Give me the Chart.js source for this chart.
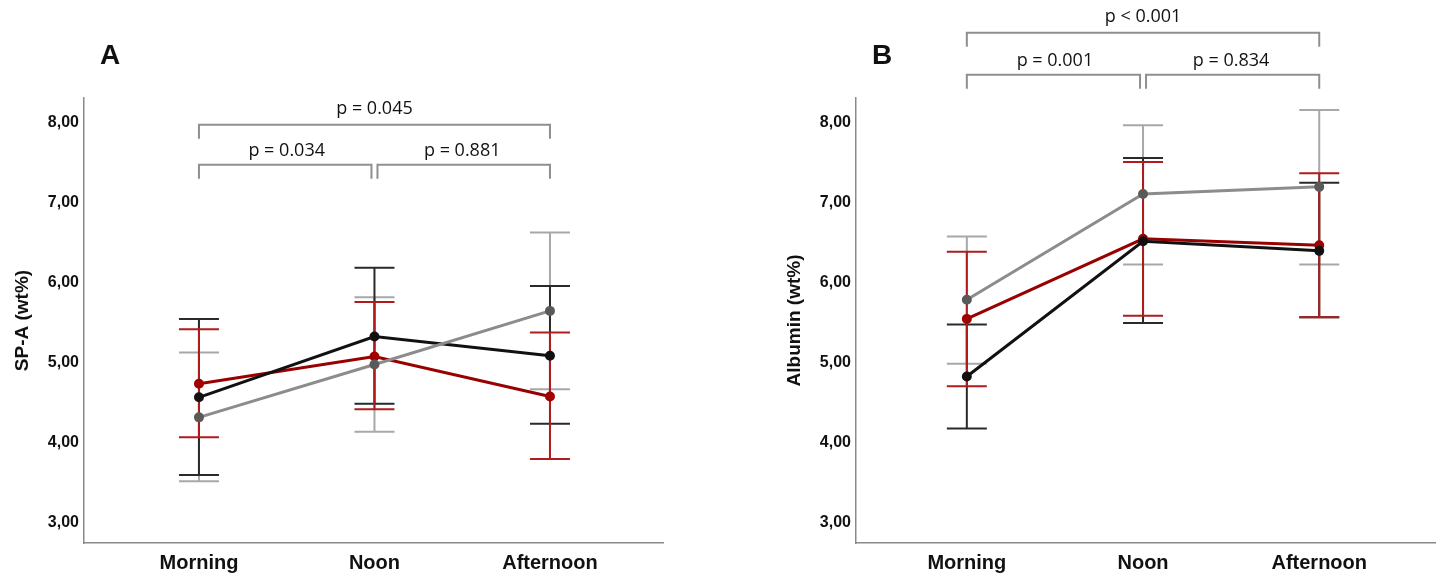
<!DOCTYPE html>
<html lang="en">
<head>
<meta charset="UTF-8">
<title>SP-A and Albumin by time of day</title>
<script src="https://cdn.jsdelivr.net/npm/chart.js"></script>
<style>
  body { margin: 0; background: #fff; overflow: hidden; }
  .panel { position: absolute; top: 0; height: 575px; }
  #panelA { left: 0; width: 720px; }
  #panelB { left: 720px; width: 722px; }
</style>
</head>
<body>
<div class="panel" id="panelA"><canvas id="chartA"></canvas></div>
<div class="panel" id="panelB"><canvas id="chartB"></canvas></div>

<script>
// categories and ticks
const categories = ['Morning', 'Noon', 'Afternoon'];
const yTicks = [3, 4, 5, 6, 7, 8];

// panel A : SP-A (wt%)
const spaBlack   = [4.57, 5.33, 5.09];
const spaBlackLo = [3.60, 4.49, 4.24];
const spaBlackHi = [5.55, 6.19, 5.96];
const spaRed     = [4.74, 5.08, 4.58];
const spaRedLo   = [4.07, 4.42, 3.80];
const spaRedHi   = [5.42, 5.76, 5.38];
const spaGray    = [4.32, 4.98, 5.65];
const spaGrayLo  = [3.52, 4.14, 4.67];
const spaGrayHi  = [5.13, 5.82, 6.63];
const spaP = ['p = 0.034', 'p = 0.881', 'p = 0.045'];

// panel B : Albumin (wt%)
const albBlack   = [4.83, 6.52, 6.40];
const albBlackLo = [4.18, 5.50, 5.57];
const albBlackHi = [5.48, 7.56, 7.25];
const albRed     = [5.55, 6.55, 6.47];
const albRedLo   = [4.71, 5.59, 5.57];
const albRedHi   = [6.39, 7.51, 7.37];
const albGray    = [5.79, 7.11, 7.20];
const albGrayLo  = [4.99, 6.23, 6.23];
const albGrayHi  = [6.58, 7.97, 8.16];
const albP = ['p = 0.001', 'p = 0.834', 'p < 0.001'];

const COL = {
  black: { line: '#111111', point: '#111111', err: '#2a2a2a' },
  red:   { line: '#990000', point: '#a00000', err: '#b01c1c' },
  gray:  { line: '#8c8c8c', point: '#5a5a5a', err: '#a8a8a8' }
};

function pts(vals) {
  return vals.map((v, i) => ({ x: i, y: v }));
}

function lineSet(vals, c) {
  return {
    data: pts(vals),
    borderColor: c.line,
    backgroundColor: c.point,
    pointBackgroundColor: c.point,
    pointBorderColor: c.point,
    borderWidth: 3,
    pointRadius: 3.5,
    tension: 0
  };
}

function makePanel(id, opt) {
  // error bars under the lines, brackets and panel letter on top
  const decor = {
    id: 'decor_' + id,
    beforeDatasetsDraw(chart) {
      const ctx = chart.ctx, xs = chart.scales.x, ys = chart.scales.y;
      ctx.save();
      opt.errors.forEach(e => {
        ctx.strokeStyle = e.color;
        ctx.lineWidth = 2;
        e.lo.forEach((lo, i) => {
          const x = xs.getPixelForValue(i);
          const y1 = ys.getPixelForValue(lo), y2 = ys.getPixelForValue(e.hi[i]);
          ctx.beginPath();
          ctx.moveTo(x, y1); ctx.lineTo(x, y2);
          ctx.moveTo(x - 20, y1); ctx.lineTo(x + 20, y1);
          ctx.moveTo(x - 20, y2); ctx.lineTo(x + 20, y2);
          ctx.stroke();
        });
      });
      ctx.restore();
    },
    afterDraw(chart) {
      const ctx = chart.ctx, xs = chart.scales.x, ys = chart.scales.y;
      const x0 = xs.getPixelForValue(0), x1 = xs.getPixelForValue(1), x2 = xs.getPixelForValue(2);
      const yl = ys.getPixelForValue(opt.bracketLow), yt = ys.getPixelForValue(opt.bracketTop);
      const drop = 14;
      ctx.save();
      ctx.strokeStyle = '#8f8f8f';
      ctx.lineWidth = 2;
      const bracket = (a, b, y) => {
        ctx.beginPath();
        ctx.moveTo(a, y + drop); ctx.lineTo(a, y); ctx.lineTo(b, y); ctx.lineTo(b, y + drop);
        ctx.stroke();
      };
      bracket(x0, x1 - 3, yl);
      bracket(x1 + 3, x2, yl);
      bracket(x0, x2, yt);
      ctx.fillStyle = '#111';
      ctx.font = '18px "Open Sans"';
      ctx.textAlign = 'center';
      ctx.textBaseline = 'middle';
      ctx.fillText(opt.pLabels[0], (x0 + x1) / 2, yl - 14);
      ctx.fillText(opt.pLabels[1], (x1 + x2) / 2, yl - 14);
      ctx.fillText(opt.pLabels[2], (x0 + x2) / 2, yt - 16);
      ctx.font = 'bold 28px "Liberation Sans"';
      ctx.fillText(opt.letter, opt.letterX, 56);
      ctx.restore();
    }
  };

  return new Chart(document.getElementById(id), {
    type: 'line',
    data: {
      datasets: [
        lineSet(opt.gray, COL.gray),
        lineSet(opt.black, COL.black),
        lineSet(opt.red, COL.red)
      ]
    },
    options: {
      responsive: true,
      maintainAspectRatio: false,
      animation: false,
      layout: { padding: { top: 98, left: opt.padLeft, right: opt.padRight, bottom: 0 } },
      plugins: { legend: { display: false }, tooltip: { enabled: false } },
      scales: {
        x: {
          type: 'linear',
          min: opt.xMin, max: opt.xMax,
          grid: { display: false, drawTicks: false },
          border: { display: true, color: '#8a8a8a', width: 1.5 },
          afterBuildTicks: s => { s.ticks = categories.map((c, i) => ({ value: i })); },
          afterFit: s => { s.height = 32; },
          ticks: {
            padding: 8,
            color: '#111',
            font: { family: 'Liberation Sans', size: 20, weight: 'bold' },
            callback: v => categories[v]
          }
        },
        y: {
          min: 2.75, max: 8.31,
          grid: { display: false, drawTicks: false },
          border: { display: true, color: '#8a8a8a', width: 1.5 },
          afterBuildTicks: s => { s.ticks = yTicks.map(v => ({ value: v })); },
          afterFit: s => { s.width = 84; },
          ticks: {
            padding: 5,
            color: '#111',
            font: { family: 'Liberation Sans', size: 16, weight: 'bold' },
            callback: v => v.toFixed(2).replace('.', ',')
          },
          title: {
            display: true,
            text: opt.yTitle,
            color: '#111',
            padding: { top: 11, bottom: 0 },
            font: { family: 'Liberation Sans', size: 19, weight: 'bold' }
          }
        }
      }
    },
    plugins: [decor]
  });
}

makePanel('chartA', {
  black: spaBlack, red: spaRed, gray: spaGray,
  errors: [
    { lo: spaGrayLo, hi: spaGrayHi, color: COL.gray.err },
    { lo: spaBlackLo, hi: spaBlackHi, color: COL.black.err },
    { lo: spaRedLo, hi: spaRedHi, color: COL.red.err }
  ],
  pLabels: spaP, bracketLow: 7.475, bracketTop: 7.975,
  letter: 'A', letterX: 110,
  yTitle: 'SP-A (wt%)',
  padLeft: 0, padRight: 57,
  xMin: -0.655, xMax: 2.644
});

makePanel('chartB', {
  black: albBlack, red: albRed, gray: albGray,
  errors: [
    { lo: albGrayLo, hi: albGrayHi, color: COL.gray.err },
    { lo: albBlackLo, hi: albBlackHi, color: COL.black.err },
    { lo: albRedLo, hi: albRedHi, color: COL.red.err }
  ],
  pLabels: albP, bracketLow: 8.6, bracketTop: 9.125,
  letter: 'B', letterX: 162,
  yTitle: 'Albumin (wt%)',
  padLeft: 52, padRight: 0,
  xMin: -0.629, xMax: 2.657
});
</script>
</body>
</html>
